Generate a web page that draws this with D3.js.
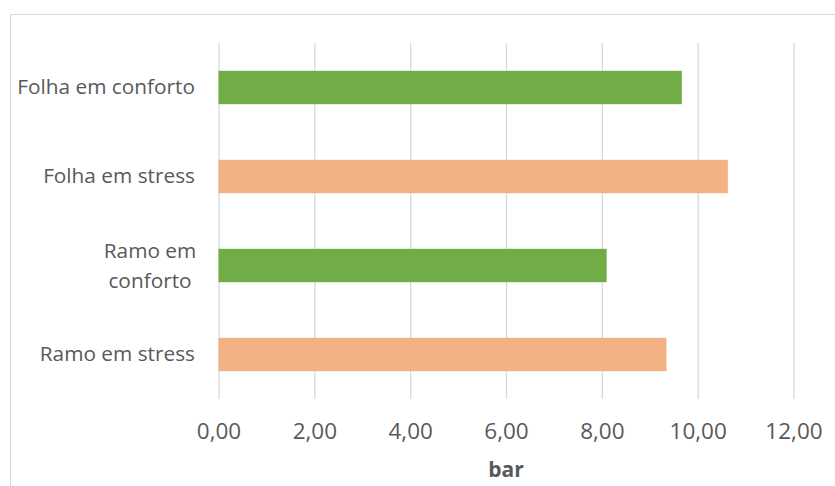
<!DOCTYPE html>
<html><head><meta charset="utf-8">
<script src="https://cdn.jsdelivr.net/npm/d3@7"></script>
<style>body{margin:0;background:#fff}svg{display:block}</style>
</head><body>
<svg id="c" width="835" height="486"></svg>
<script>
const categories = ["Folha em conforto","Folha em stress","Ramo em conforto","Ramo em stress"];
const values = [9.67, 10.63, 8.1, 9.35];
const barColors = ["#70AD47","#F4B183","#70AD47","#F4B183"];
const tickValues = [0,2,4,6,8,10,12];
const axisTitle = "bar";

const svg = d3.select("#c");
const font = "'Open Sans', sans-serif";
const m = {left:218.5, right:793.5, top:43, bottom:399};

svg.append("rect").attr("x",10.5).attr("y",14.5).attr("width",900).attr("height",600)
  .attr("fill","#fff").attr("stroke","#d9d9d9").attr("stroke-width",1);

const x = d3.scaleLinear().domain([0,12]).range([m.left,m.right]);
const y = d3.scaleBand().domain(categories).range([m.top,m.bottom]).paddingInner(0.625).paddingOuter(0.3125);

const grid = svg.append("g").attr("transform",`translate(0,${m.top})`)
  .call(d3.axisTop(x).tickValues(tickValues).tickSize(-(m.bottom-m.top)).tickFormat(""));
grid.select(".domain").remove();
grid.selectAll("line").attr("stroke","#d9d9d9").attr("stroke-width",1.3);

svg.append("g").selectAll("rect").data(categories).join("rect")
  .attr("x",x(0)).attr("y",d=>y(d)).attr("height",y.bandwidth())
  .attr("width",(d,i)=>x(values[i])-x(0)).attr("fill",(d,i)=>barColors[i]);

const xa = svg.append("g").attr("transform",`translate(0,${m.bottom})`)
  .call(d3.axisBottom(x).tickValues(tickValues).tickSize(0).tickPadding(0)
    .tickFormat(d=>d3.format(".2f")(d).replace(".",",")));
xa.select(".domain").remove();
xa.selectAll("text").attr("font-family",font).attr("font-size",22.5).attr("fill","#595959").attr("dy",null).attr("y",40);

svg.append("text").attr("x",(m.left+m.right)/2).attr("y",477).attr("text-anchor","middle")
  .attr("font-family",font).attr("font-size",21).attr("font-weight","bold").attr("fill","#595959").text(axisTitle);

const labels = svg.append("g");
const lfs = 20.8;
categories.forEach((c,i)=>{
  const cy = y(c)+y.bandwidth()/2;
  if(c==="Ramo em conforto"){
    const t = labels.append("text").attr("x",150).attr("text-anchor","middle")
      .attr("font-family",font).attr("font-size",lfs).attr("fill","#595959");
    t.append("tspan").attr("x",150).attr("y",cy-8).text("Ramo em");
    t.append("tspan").attr("x",150).attr("y",cy+22).text("conforto");
  } else {
    labels.append("text").attr("x",195).attr("y",cy+6.5).attr("text-anchor","end")
      .attr("font-family",font).attr("font-size",lfs).attr("fill","#595959").text(c);
  }
});
</script>
</body></html>
